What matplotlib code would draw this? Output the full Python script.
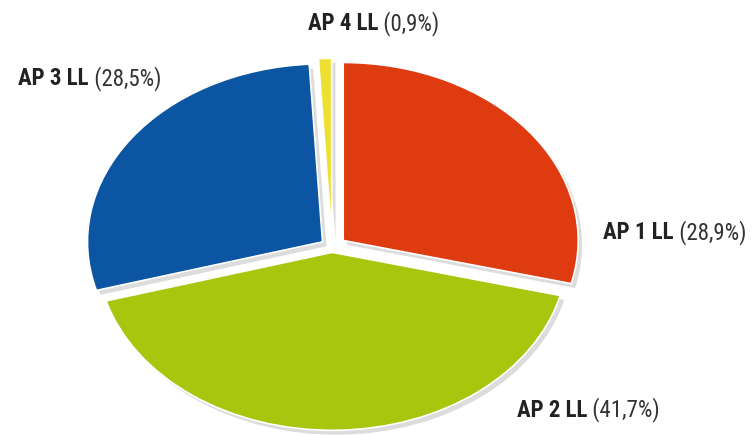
import matplotlib
matplotlib.use('Agg')
import matplotlib.pyplot as plt

# 各分段所占比例（顺时针，从顶部开始）
labels = ['AP 1 LL', 'AP 2 LL', 'AP 3 LL', 'AP 4 LL']
shares = [28.9, 41.7, 28.5, 0.9]
share_text = ['(28,9%)', '(41,7%)', '(28,5%)', '(0,9%)']
colors = ['#DE3B10', '#A8C60E', '#0B55A3', '#EEE030']

family = 'Roboto Condensed'

fig = plt.figure(figsize=(7.53, 4.36), dpi=100)
ax = fig.add_axes([0, 0, 1, 1])

wedges, _ = ax.pie(shares, colors=colors, startangle=90, counterclock=False,
                   explode=[0.06, 0.03, 0.05, 0.06],
                   wedgeprops=dict(edgecolor='white', linewidth=1.2),
                   shadow=dict(ox=0.012, oy=-0.018, facecolor='#777777',
                               edgecolor='none', alpha=0.25))

ax.set_aspect('auto')
ax.set_xlim(-1.413, 1.791)
ax.set_ylim(-1.062, 1.388)
ax.axis('off')

# 标签位置（数据坐标，左端对齐）
label_xy = [(1.153, 0.079), (0.787, -0.916), (-1.336, 0.949), (-0.102, 1.254)]
for name, pct, (x, y) in zip(labels, share_text, label_xy):
    t = ax.text(x, y, name, fontsize=16.5, fontweight='bold', color='#222222',
                family=family, va='center', ha='left')
    ax.annotate(' ' + pct, xy=(1, 0.5), xycoords=t, va='center', ha='left',
                fontsize=16.5, color='#333333', family=family)

fig.savefig('out.png', dpi=100)
